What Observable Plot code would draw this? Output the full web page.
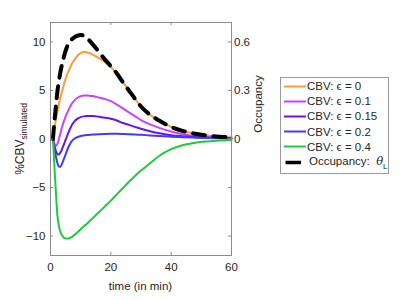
<!DOCTYPE html>
<html>
<head>
<meta charset="utf-8">
<script src="https://cdn.jsdelivr.net/npm/d3@7"></script>
<script src="https://cdn.jsdelivr.net/npm/@observablehq/plot@0.6"></script>
<style>
  html, body { margin: 0; padding: 0; background: #fff; }
  #wrap { position: relative; width: 400px; height: 300px; font-family: "Liberation Sans", Arial, sans-serif; color: #262626; }
  #legend { position: absolute; left: 280px; top: 77px; width: 107px; height: 95px; border: 1px solid #9a9a9a; background: #fff; }
  .row { position: absolute; left: 0; height: 15px; display: flex; align-items: center; font-size: 11.5px; white-space: nowrap; }
  .row svg { display: block; }
</style>
</head>
<body>
<div id="wrap"></div>
<script>
// ---- data ----
const time = [0.8, 1.3, 1.8, 2.3, 2.8, 3.3, 4, 5, 6, 7, 8, 9, 10, 11, 12, 13, 14, 16, 18, 20, 22, 24, 26, 28, 30, 33, 36, 40, 44, 48, 52, 56, 60];

const cbvEps0   = [0, 1.1, 2.0, 2.8, 3.6, 4.3, 5.1, 6.2, 7.0, 7.7, 8.2, 8.6, 8.85, 8.95, 8.93, 8.83, 8.7, 8.35, 7.95, 7.4, 6.7, 5.85, 5.0, 4.15, 3.35, 2.5, 1.9, 1.25, 0.82, 0.53, 0.35, 0.24, 0.17];
const cbvEps01  = [0, -0.5, -0.7, -0.5, 0.0, 0.6, 1.4, 2.3, 3.0, 3.6, 4.0, 4.25, 4.4, 4.47, 4.48, 4.46, 4.42, 4.28, 4.12, 3.9, 3.55, 3.15, 2.75, 2.35, 1.95, 1.5, 1.15, 0.78, 0.48, 0.3, 0.2, 0.14, 0.1];
const cbvEps015 = [0, -0.7, -1.25, -1.55, -1.6, -1.4, -0.9, -0.1, 0.7, 1.4, 1.85, 2.1, 2.25, 2.33, 2.37, 2.38, 2.37, 2.3, 2.2, 2.08, 1.9, 1.65, 1.45, 1.25, 1.05, 0.8, 0.6, 0.38, 0.28, 0.2, 0.15, 0.11, 0.08];
const cbvEps02  = [0, -0.9, -1.8, -2.5, -2.85, -2.85, -2.4, -1.6, -0.8, -0.25, 0.05, 0.2, 0.3, 0.36, 0.4, 0.43, 0.46, 0.5, 0.52, 0.53, 0.53, 0.52, 0.5, 0.47, 0.43, 0.37, 0.31, 0.24, 0.18, 0.14, 0.1, 0.07, 0.05];
const cbvEps04  = [0, -2.8, -5.6, -7.9, -9.0, -9.6, -10.0, -10.25, -10.25, -10.1, -9.85, -9.6, -9.3, -9.0, -8.75, -8.45, -8.15, -7.55, -6.95, -6.35, -5.7, -5.05, -4.4, -3.8, -3.25, -2.5, -1.75, -1.05, -0.62, -0.38, -0.25, -0.16, -0.1];
const occupancy = [0, 0.108, 0.205, 0.295, 0.36, 0.415, 0.475, 0.545, 0.59, 0.615, 0.63, 0.639, 0.643, 0.639, 0.626, 0.606, 0.585, 0.54, 0.492, 0.45, 0.405, 0.351, 0.30, 0.249, 0.201, 0.15, 0.114, 0.075, 0.049, 0.032, 0.021, 0.014, 0.01];

const seriesLabels = ["CBV: \u03F5 = 0", "CBV: \u03F5 = 0.1", "CBV: \u03F5 = 0.15", "CBV: \u03F5 = 0.2", "CBV: \u03F5 = 0.4"];
const seriesColors = ["#ff9a3c", "#cc40ff", "#6414f0", "#3c3cff", "#1ccc3c"];
const seriesValues = [cbvEps0, cbvEps01, cbvEps015, cbvEps02, cbvEps04];

const xTicks = [0, 20, 40, 60];
const leftTicks = [-10, -5, 0, 5, 10];
const rightTicks = [-0.6, -0.3, 0, 0.3, 0.6];
const rightTickLabels = ["", "", "0", "0.3", "0.6"];
const occToLeft = 10 / 0.6; // right axis 0.6 aligns with left axis 10

// ---- tables built from arrays ----
const rows = [];
seriesValues.forEach((vals, s) => vals.forEach((v, j) => rows.push({t: time[j], v, s: seriesLabels[s]})));
const occRows = time.map((t, j) => ({t, v: occupancy[j] * occToLeft}));

const W = 400, H = 300;
const mL = 50, mR = 169, mT = 22, mB = 45;
const innerW = W - mL - mR, innerH = H - mT - mB;
const axisColor = "#8c8c8c";
const textColor = "#262626";

const chart = Plot.plot({
  width: W, height: H,
  marginLeft: mL, marginRight: mR, marginTop: mT, marginBottom: mB,
  style: {fontFamily: "Liberation Sans, Arial, sans-serif", fontSize: "11.5px", color: textColor, background: "#fff"},
  x: {domain: [0, 60]},
  y: {domain: [-12, 12]},
  color: {domain: seriesLabels, range: seriesColors},
  marks: [
    Plot.line(rows, {x: "t", y: "v", z: "s", stroke: "s", strokeWidth: 2, curve: "monotone-x"}),
    Plot.line(occRows, {x: "t", y: "v", stroke: "#000", strokeWidth: 4, strokeDasharray: "12,8.5", curve: "monotone-x"}),
    Plot.frame({stroke: axisColor, strokeWidth: 1}),
    // inward tick marks
    Plot.tickX(xTicks, {x: d => d, insetTop: innerH - 3, stroke: axisColor}),
    Plot.tickX(xTicks, {x: d => d, insetBottom: innerH - 3, stroke: axisColor}),
    Plot.tickY(leftTicks, {y: d => d, insetRight: innerW - 3, stroke: axisColor}),
    Plot.tickY(rightTicks, {y: d => d * occToLeft, insetLeft: innerW - 3, stroke: axisColor}),
    // axes (labels only)
    Plot.axisX(xTicks, {tickSize: 0, tickPadding: 7, label: null, fill: textColor}),
    Plot.axisY(leftTicks, {anchor: "left", tickSize: 0, tickPadding: 5, label: null, fill: textColor}),
    Plot.axisY(rightTicks.map(d => d * occToLeft), {anchor: "right", tickSize: 0, tickPadding: 2.5, label: null, fill: textColor,
      tickFormat: (d, i) => rightTickLabels[i]})
  ]
});

const wrap = document.getElementById("wrap");
wrap.appendChild(chart);

// axis titles (with subscripts)
const svg = d3.select(chart);
const yl = svg.append("text")
  .attr("transform", "translate(24,139) rotate(-90)")
  .attr("text-anchor", "middle")
  .attr("fill", textColor)
  .attr("font-size", 12);
yl.append("tspan").text("%CBV");
yl.append("tspan").attr("font-size", 8.5).attr("dy", 3).text("simulated");

svg.append("text")
  .attr("transform", "translate(262,104) rotate(-90)")
  .attr("text-anchor", "middle")
  .attr("fill", textColor)
  .attr("font-size", 11.5)
  .text("Occupancy");

svg.append("text")
  .attr("x", mL + innerW / 2)
  .attr("y", 290)
  .attr("text-anchor", "middle")
  .attr("fill", textColor)
  .attr("font-size", 11.5)
  .text("time (in min)");

// legend
const legend = document.createElement("div");
legend.id = "legend";
wrap.appendChild(legend);
const rowTop = 0.5, rowStep = 15.2;
seriesLabels.forEach((lab, i) => {
  const r = document.createElement("div");
  r.className = "row";
  r.style.top = (rowTop + i * rowStep) + "px";
  r.innerHTML = `<svg width="26" height="15"><line x1="3" x2="25" y1="7.5" y2="7.5" stroke="${seriesColors[i]}" stroke-width="2"/></svg><span>${lab}</span>`;
  legend.appendChild(r);
});
const occRow = document.createElement("div");
occRow.className = "row";
occRow.style.top = (rowTop + 5 * rowStep) + "px";
occRow.innerHTML = `<svg width="28" height="15"><line x1="4.5" x2="20" y1="7.5" y2="7.5" stroke="#000" stroke-width="3.5"/></svg><span>Occupancy:&nbsp; <i style="font-family:'DejaVu Serif',serif">\u03B8</i><sub style="font-size:8px;vertical-align:-4px">L</sub></span>`;
legend.appendChild(occRow);
</script>
</body>
</html>
